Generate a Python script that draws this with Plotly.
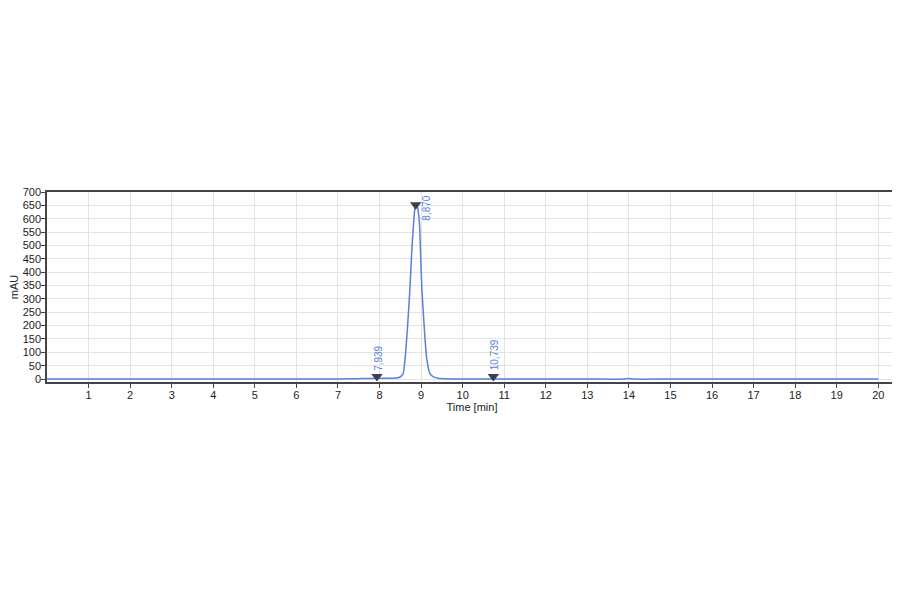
import plotly.graph_objects as go

# chromatogram trace
time_min = [0.0, 3.0, 6.0, 7.0, 7.3, 7.6, 7.939, 8.2, 8.4, 8.47, 8.53, 8.57, 8.62, 8.68, 8.73,
            8.77, 8.82, 8.86, 8.89, 8.92, 8.96, 8.99, 9.02, 9.07, 9.13, 9.21, 9.3,
            9.42, 9.6, 10.0, 10.739, 12.0, 13.0, 13.9, 14.0, 14.1, 15.0, 17.0, 20.0]
mau = [0, 0, 0, 0, 1, 2, 3, 3, 4, 6, 12, 21, 84, 209, 335,
       460, 585, 650, 658, 640, 585, 460, 335, 209, 84, 21, 8,
       3, 1, 0, 0, 0, 0, 0, 2, 0, 0, 0, 0]

# integration markers
peak_times = [7.939, 8.870, 10.739]
peak_levels = [10, 652, 10]
peak_labels = ['7,939', '8,870', '10,739']

x_ticks = list(range(1, 21))

LINE_BLUE = '#5a7fdc'
MARK_GREY = '#3b414c'
GRID = '#e3e3e3'
FONT = 'Liberation Sans, Arial, sans-serif'

fig = go.Figure()
fig.add_trace(go.Scatter(x=time_min, y=mau, mode='lines',
                         line=dict(color=LINE_BLUE, width=1.5, shape='spline', smoothing=0.6),
                         hoverinfo='skip'))
fig.add_trace(go.Scatter(x=peak_times, y=peak_levels, mode='markers',
                         marker=dict(symbol='triangle-down', size=10, color=MARK_GREY),
                         hoverinfo='skip'))

# rotated retention-time labels
for t, lvl, lab in zip(peak_times, peak_levels, peak_labels):
    if lab == '8,870':
        # no room above the apex, so the label hangs down beside it
        fig.add_annotation(x=t, y=700, text=lab, textangle=-90, showarrow=False,
                           xanchor='left', yanchor='top', xshift=3, yshift=-2,
                           font=dict(family=FONT, size=10, color=LINE_BLUE))
    else:
        fig.add_annotation(x=t, y=lvl, text=lab, textangle=-90, showarrow=False,
                           xanchor='center', yanchor='bottom', xshift=2, yshift=4,
                           font=dict(family=FONT, size=10, color=LINE_BLUE))

axis_common = dict(showline=True, linecolor='#444', linewidth=1.5, mirror=True,
                   ticks='outside', ticklen=4, tickcolor='#444', automargin=False,
                   ticklabelstandoff=-2,
                   showgrid=True, gridcolor=GRID, gridwidth=1, zeroline=False,
                   tickfont=dict(family=FONT, size=11, color='#222'))

# margins allow for the 8px body margin of the html page
fig.update_layout(
    width=900, height=594,
    margin=dict(l=39, r=11, t=184, b=220),
    paper_bgcolor='white', plot_bgcolor='white',
    showlegend=False,
    font=dict(family=FONT, size=11, color='#222'),
    xaxis=dict(range=[0, 20.45], tickmode='array', tickvals=x_ticks,
               title=dict(text='Time [min]', standoff=0,
                          font=dict(family=FONT, size=11, color='#222')),
               **axis_common),
    yaxis=dict(range=[-11, 700], tickmode='linear', tick0=0, dtick=50,
               title=dict(text='mAU', standoff=6,
                          font=dict(family=FONT, size=11, color='#222')),
               **axis_common),
)

fig.write_html("out.html")
